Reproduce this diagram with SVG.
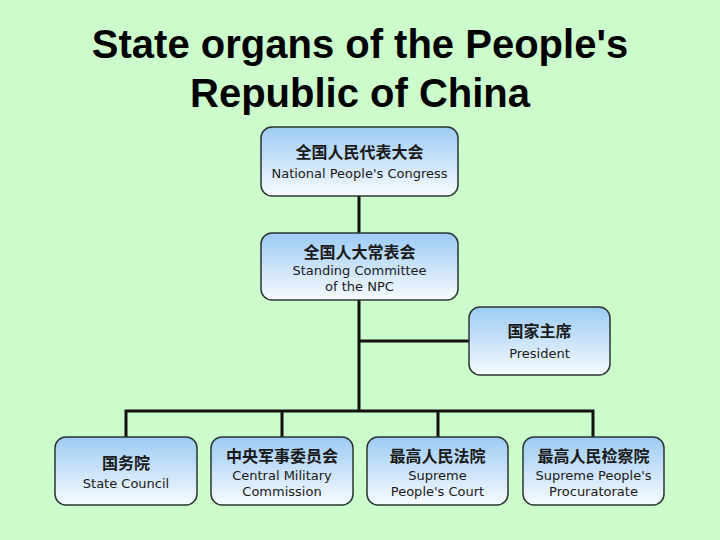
<svg xmlns="http://www.w3.org/2000/svg" width="720" height="540" viewBox="0 0 720 540">
<defs>
<linearGradient id="g" x1="0" y1="0" x2="0" y2="1">
<stop offset="0" stop-color="#9ccbf3"/>
<stop offset="0.55" stop-color="#cfe5fa"/>
<stop offset="1" stop-color="#f7fbff"/>
</linearGradient>
<style>
.box{fill:url(#g);stroke:#2b3535;stroke-width:1.5}
.zh{font-family:"Noto Sans CJK SC","Noto Sans",sans-serif;font-size:16px;font-weight:bold;fill:#1a1a1a;text-anchor:middle}
.en{font-family:"DejaVu Sans",Verdana,sans-serif;font-size:13px;fill:#1a1a1a;text-anchor:middle}
.title{font-family:"Liberation Sans",Arial,sans-serif;font-size:40px;font-weight:bold;fill:#000;text-anchor:middle}
.ln{stroke:#111;stroke-width:3;fill:none}
</style>
</defs>
<rect width="720" height="540" fill="#ccfccc"/>
<text class="title" x="360" y="58">State organs of the People's</text>
<text class="title" x="360" y="107">Republic of China</text>
<g id="connectors">
<line class="ln" x1="359" y1="196" x2="359" y2="233"/>
<line class="ln" x1="359" y1="300" x2="359" y2="411"/>
<line class="ln" x1="359" y1="341" x2="469" y2="341"/>
<polyline class="ln" points="126,437 126,411 593,411 593,437"/>
<line class="ln" x1="282" y1="411" x2="282" y2="437"/>
<line class="ln" x1="438" y1="411" x2="438" y2="437"/>
</g>
<g id="npc">
<rect class="box" x="261" y="127" width="197" height="69" rx="11"/>
<text class="zh" x="359.5" y="158">全国人民代表大会</text>
<text class="en" x="359.5" y="178">National People's Congress</text>
</g>
<g id="npcsc">
<rect class="box" x="261" y="233" width="197" height="67" rx="11"/>
<text class="zh" x="359.5" y="258">全国人大常表会</text>
<text class="en" x="359.5" y="275">Standing Committee</text>
<text class="en" x="359.5" y="291">of the NPC</text>
</g>
<g id="president">
<rect class="box" x="469" y="307" width="141" height="68" rx="11"/>
<text class="zh" x="539.5" y="337">国家主席</text>
<text class="en" x="539.5" y="358">President</text>
</g>
<g id="statecouncil">
<rect class="box" x="55" y="437" width="142" height="68" rx="11"/>
<text class="zh" x="126" y="469">国务院</text>
<text class="en" x="126" y="488">State Council</text>
</g>
<g id="cmc">
<rect class="box" x="211" y="437" width="142" height="68" rx="11"/>
<text class="zh" x="282" y="462">中央军事委员会</text>
<text class="en" x="282" y="480">Central Military</text>
<text class="en" x="282" y="496">Commission</text>
</g>
<g id="spc">
<rect class="box" x="367" y="437" width="141" height="68" rx="11"/>
<text class="zh" x="437.5" y="462">最高人民法院</text>
<text class="en" x="437.5" y="480">Supreme</text>
<text class="en" x="437.5" y="496">People's Court</text>
</g>
<g id="spp">
<rect class="box" x="523" y="437" width="141" height="68" rx="11"/>
<text class="zh" x="593.5" y="462">最高人民检察院</text>
<text class="en" x="593.5" y="480">Supreme People's</text>
<text class="en" x="593.5" y="496">Procuratorate</text>
</g>
</svg>
